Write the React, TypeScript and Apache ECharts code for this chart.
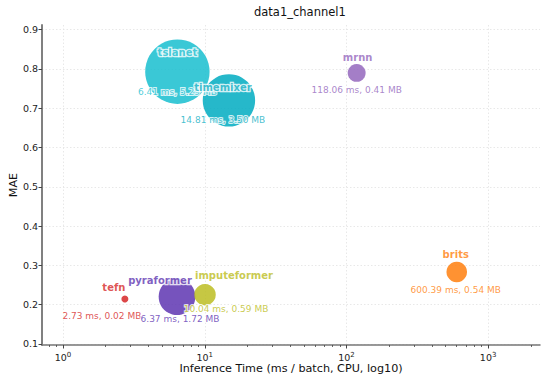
import React, { useEffect, useRef } from "react";
import * as echarts from "echarts";

const models = ["tslanet", "timemixer", "mrnn", "brits", "tefn", "pyraformer", "imputeformer"];
const inferenceMs = [6.41, 14.81, 118.06, 600.39, 2.73, 6.37, 10.04];
const maeValues = [0.793, 0.72, 0.79, 0.283, 0.214, 0.22, 0.225];
const sizeMB = [5.29, 3.5, 0.41, 0.54, 0.02, 1.72, 0.59];
const infoLabels = [
  "6.41 ms, 5.29 MB",
  "14.81 ms, 3.50 MB",
  "118.06 ms, 0.41 MB",
  "600.39 ms, 0.54 MB",
  "2.73 ms, 0.02 MB",
  "6.37 ms, 1.72 MB",
  "10.04 ms, 0.59 MB",
];
const yTicks = [0.1, 0.2, 0.3, 0.4, 0.5, 0.6, 0.7, 0.8, 0.9];
const xMajorTicks = [1, 10, 100, 1000];
const xMinorTicks = [0.8, 0.9, 2, 3, 4, 5, 6, 7, 8, 9, 20, 30, 40, 50, 60, 70, 80, 90, 200, 300, 400, 500, 600, 700, 800, 900, 2000];

// styling (not data)
const bubbleColors = ["#17becf", "#00acc1", "#9467bd", "#ff7f0e", "#d62728", "#5e35b1", "#bcbd22"];
const textColors = ["#22bfd0", "#14b0c4", "#9467bd", "#ff7f0e", "#d62728", "#5e35b1", "#bcbd22"];
const nameOffsets = [[0, -19], [-6, -13], [1, -15], [-1, -17], [-11, -12], [-17, -16], [29, -19]];
const infoOffsets = [[0, 20], [-6, 20], [0, 17], [-1, 18], [-23, 17], [3, 22], [21, 14]];

const FONT = "DejaVu Sans";

export default function App() {
  const ref = useRef<HTMLDivElement>(null);
  useEffect(() => {
    if (!ref.current) return;
    const chart = echarts.init(ref.current, null, { renderer: "svg" });
    const pts = models.map((m, i) => [inferenceMs[i], maeValues[i], sizeMB[i]]);
    const bubbleData = pts.map((p, i) => ({
      value: p,
      itemStyle: { color: bubbleColors[i], opacity: 0.85 },
    }));
    const nameData = pts.map((p, i) => ({
      value: p,
      label: {
        show: true,
        position: "inside",
        offset: nameOffsets[i],
        formatter: models[i],
        color: textColors[i],
        fontWeight: "bold",
        fontSize: 10,
        fontFamily: FONT,
        textBorderColor: "#fff",
        textBorderWidth: 2.5,
      },
    }));
    const infoData = pts.map((p, i) => ({
      value: p,
      label: {
        show: true,
        position: "inside",
        offset: infoOffsets[i],
        formatter: infoLabels[i],
        color: textColors[i],
        fontSize: 9,
        fontFamily: FONT,
        textBorderColor: "#fff",
        textBorderWidth: 2,
      },
    }));
    const gridLine = { show: true, lineStyle: { color: "#e2e2e2", width: 0.8, type: [1.5, 2] } };
    chart.setOption({
      animation: false,
      title: {
        text: "data1_channel1",
        left: 254,
        top: 6,
        padding: 0,
        textStyle: { fontSize: 11.5, fontWeight: "normal", color: "#111", fontFamily: FONT },
      },
      grid: { left: 42, right: 10, top: 25, bottom: 39, containLabel: false, outerBoundsMode: "none" },
      xAxis: [
        {
          type: "log",
          logBase: 10,
          min: 0.71,
          max: 2323,
          name: "Inference Time (ms / batch, CPU, log10)",
          nameLocation: "middle",
          nameMoveOverlap: false,
          nameGap: 17.5,
          nameTextStyle: { fontSize: 11.2, color: "#111", fontFamily: FONT },
          axisLine: { show: true, onZero: false, lineStyle: { color: "#777", width: 1.5 } },
          axisTick: { show: true, length: 3.5, customValues: xMajorTicks, lineStyle: { color: "#444" } },
          axisLabel: {
            customValues: xMajorTicks,
            margin: 6,
            formatter: (v: number) => `{b|10}{s|${Math.round(Math.log10(v))}}`,
            rich: {
              b: { fontSize: 9.5, color: "#222", fontFamily: FONT },
              s: { fontSize: 7, color: "#222", fontFamily: FONT, padding: [0, 0, 6, 0] },
            },
          },
          splitLine: gridLine,
          minorTick: { show: false },
        },
        {
          type: "log",
          logBase: 10,
          min: 0.71,
          max: 2323,
          position: "bottom",
          axisLine: { show: false },
          axisTick: { show: true, length: 2, customValues: xMinorTicks, lineStyle: { color: "#444", width: 0.8 } },
          axisLabel: { show: false },
          splitLine: { show: false },
        },
      ],
      yAxis: {
        type: "value",
        min: 0.097,
        max: 0.912,
        name: "MAE",
        nameLocation: "middle",
        nameMoveOverlap: false,
        nameGap: 23.5,
        nameTextStyle: { fontSize: 11.2, color: "#111", fontFamily: FONT },
        axisLine: { show: true, lineStyle: { color: "#808080", width: 2 } },
        axisTick: { show: true, length: 3.5, customValues: yTicks, lineStyle: { color: "#444" } },
        axisLabel: {
          customValues: yTicks,
          margin: 4,
          fontSize: 9.5,
          color: "#222",
          fontFamily: FONT,
          formatter: (v: number) => v.toFixed(1),
        },
        splitLine: gridLine,
      },
      series: [
        {
          type: "scatter",
          silent: true,
          z: 2,
          data: bubbleData,
          symbolSize: (v: number[]) => Math.max(7, 28 * Math.sqrt(v[2])),
        },
        {
          type: "scatter",
          silent: true,
          z: 4,
          data: infoData,
          symbolSize: 0,
        },
        {
          type: "scatter",
          silent: true,
          z: 5,
          data: nameData,
          symbolSize: 0,
        },
      ],
    });
    return () => chart.dispose();
  }, []);
  return (
    <div
      ref={ref}
      style={{ position: "fixed", left: 0, top: 0, width: 550, height: 384, background: "#fff" }}
    />
  );
}
